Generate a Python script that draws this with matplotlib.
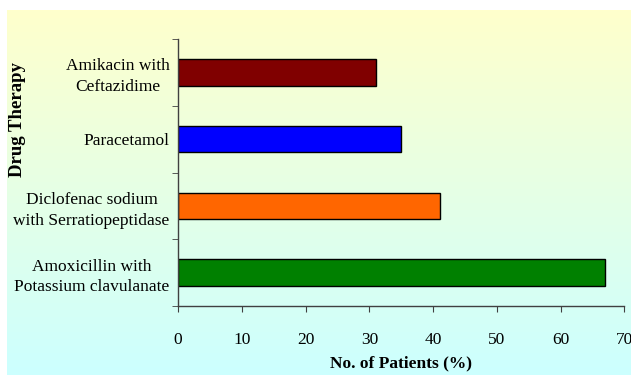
import numpy as np
import matplotlib.pyplot as plt
from matplotlib.colors import LinearSegmentedColormap

drugs = ["Amoxicillin with\nPotassium clavulanate",
         "Diclofenac sodium\nwith Serratiopeptidase",
         "Paracetamol",
         "Amikacin with\nCeftazidime"]
patients = [67, 41, 35, 31]
colors = ["#008000", "#FF6600", "#0000FF", "#800000"]
xticks = [0, 10, 20, 30, 40, 50, 60, 70]

plt.rcParams["font.family"] = ["Liberation Serif", "DejaVu Serif"]

fig = plt.figure(figsize=(6.31, 3.75), dpi=100)

# gradient background, yellow at the top to cyan at the bottom
bg = fig.add_axes([7 / 631, 0, 1 - 7 / 631, 1 - 10 / 375], zorder=0)
grad = np.linspace(0, 1, 256).reshape(-1, 1)
cmap = LinearSegmentedColormap.from_list("bg", ["#FFFFCC", "#CCFFFF"])
bg.imshow(grad, aspect="auto", cmap=cmap, extent=[0, 1, 0, 1])
bg.set_axis_off()

ax = fig.add_axes([178 / 631, 1 - 306 / 375, 446.5 / 631, 267 / 375], zorder=1)
ax.patch.set_alpha(0)

y = np.arange(len(drugs))
ax.barh(y, patients, height=0.4, color=colors, edgecolor="black", linewidth=1)

ax.set_xlim(0, 70)
ax.set_ylim(-0.5, len(drugs) - 0.5)
ax.set_xticks(xticks)
ax.set_yticks(y)
ax.set_yticklabels(drugs, multialignment="center", linespacing=1.4)
ax.set_yticks(np.arange(-0.5, len(drugs), 1), minor=True)

for s in ["top", "right"]:
    ax.spines[s].set_visible(False)
for s in ["left", "bottom"]:
    ax.spines[s].set_color("#404040")
    ax.spines[s].set_linewidth(1)

ax.tick_params(axis="y", which="major", length=0, pad=6, labelsize=12.5)
ax.tick_params(axis="y", which="minor", length=4, color="#404040", direction="out")
ax.tick_params(axis="x", length=4, color="#404040", direction="out", pad=15, labelsize=12.5)

ax.set_xlabel("No. of Patients (%)", fontsize=12.5, fontweight="bold", labelpad=5)
fig.text(18 / 631, 1 - 120 / 375, "Drug Therapy", rotation=90, fontsize=13.5,
         fontweight="bold", ha="center", va="center")

fig.savefig("out.png", dpi=100)
